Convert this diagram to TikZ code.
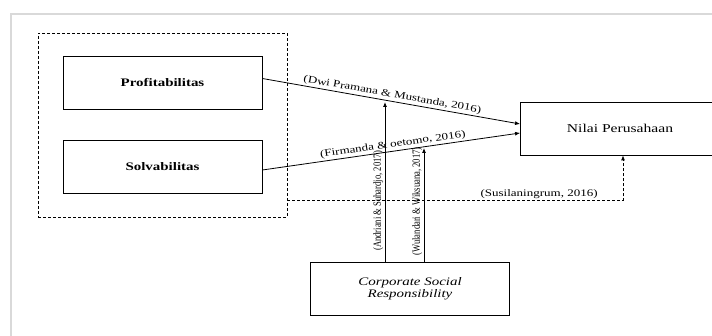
\documentclass[tikz,border=0pt]{standalone}
\usepackage{fontspec}
\setmainfont{Liberation Serif}[FakeStretch=1.3]
\newfontfamily\narrowserif{Liberation Serif}[FakeStretch=0.78]
\usetikzlibrary{arrows.meta}
\tikzset{
  varbox/.style={draw, line width=0.8pt, minimum width=199pt, minimum height=53pt, inner sep=0pt, align=center},
  refnote/.style={font=\fontsize{10}{12}\selectfont, inner sep=1.5pt},
  vnote/.style={font=\narrowserif\fontsize{11}{12}\selectfont, rotate=90, anchor=south, inner sep=1.5pt},
}
\begin{document}
\begin{tikzpicture}[x=1pt, y=-1pt, >={Latex[length=5pt,width=4pt]}]
  \useasboundingbox (0,0) rectangle (712,336);
  \draw[black!15, line width=1.2pt] (11,336) -- (11,14) -- (712,14);
  % variables
  \node[draw, densely dashed, line width=0.8pt, minimum width=249pt, minimum height=184pt] (grp) at (162.5,125) {};
  \node[varbox, font=\bfseries\fontsize{11.5}{13}\selectfont] (prof) at (162.5,82.5) {Profitabilitas};
  \node[varbox, font=\bfseries\fontsize{11.5}{13}\selectfont] (solv) at (162.5,167) {Solvabilitas};
  \node[varbox, font=\fontsize{12}{14}\selectfont] (nilai) at (620,128.5) {Nilai Perusahaan};
  \node[varbox, font=\itshape\fontsize{11.5}{12}\selectfont] (csr) at (410,288.5) {Corporate Social\\Responsibility};
  \coordinate (tipA) at (385,102);
  \coordinate (tipB) at (424,148);
  \coordinate (bend) at (623,200.7);
  % connectors
  \begin{scope}[line width=0.8pt]
    \draw[->] ([yshift=4pt]prof.east) -- node[refnote, sloped, above, pos=0.5]{(Dwi Pramana \& Mustanda, 2016)} ([yshift=4.5pt]nilai.west);
    \draw[->] ([yshift=-3pt]solv.east) -- node[refnote, sloped, above, pos=0.51]{(Firmanda \& oetomo, 2016)} ([yshift=-4.5pt]nilai.west);
    \draw[->] (csr.north -| tipA) -- node[vnote, pos=0.38]{(Andriani \& Suhardjo, 2017)} (tipA);
    \draw[->] (csr.north -| tipB) -- node[vnote, pos=0.53]{(Wulandari \& Wiksuana, 2017)} (tipB);
    \draw[->, dash pattern=on 3pt off 2pt] (grp.east |- bend) -- node[refnote, above, pos=0.75]{(Susilaningrum, 2016)} (bend) -- (nilai.south -| bend);
  \end{scope}
\end{tikzpicture}
\end{document}
